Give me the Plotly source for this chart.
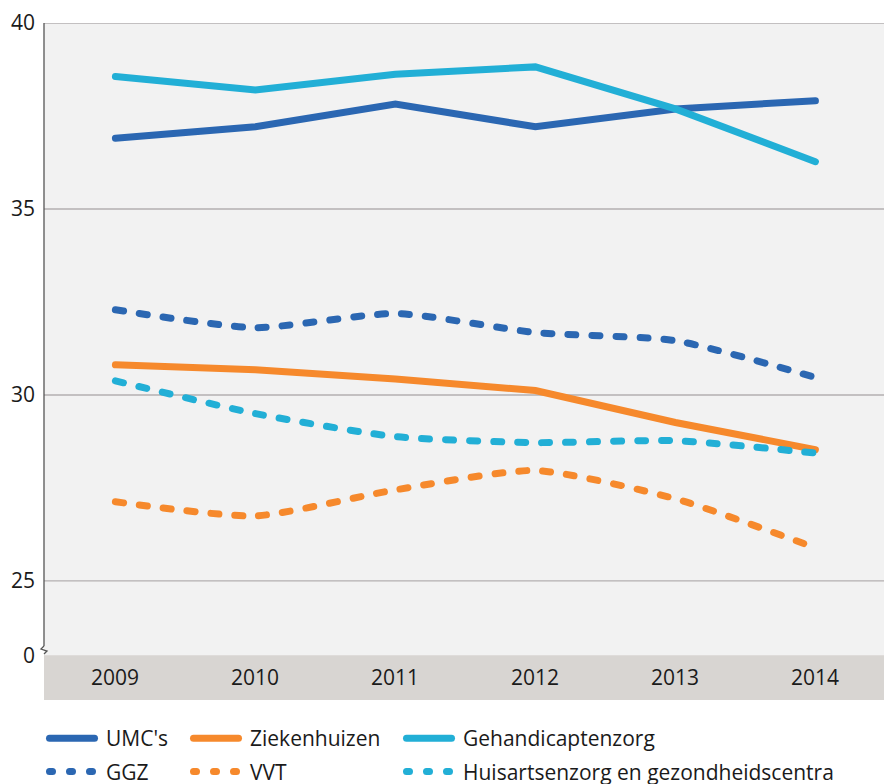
import plotly.graph_objects as go

years = ["2009", "2010", "2011", "2012", "2013", "2014"]
umc = [36.90, 37.21, 37.82, 37.21, 37.69, 37.91]
ziekenhuizen = [30.81, 30.68, 30.43, 30.12, 29.26, 28.53]
gehandicapt = [38.56, 38.20, 38.62, 38.82, 37.69, 36.27]
ggz = [32.29, 31.81, 32.19, 31.68, 31.46, 30.47]
vvt = [27.13, 26.75, 27.45, 27.97, 27.21, 25.89]
huisarts = [30.38, 29.50, 28.88, 28.72, 28.77, 28.44]

ytick_vals = [23, 25, 30, 35, 40]
ytick_text = ["0", "25", "30", "35", "40"]
grid_vals = [25, 30, 35, 40]

BLUE = "#2b67b2"
ORANGE = "#f6892c"
CYAN = "#22afd6"
FONT = "Open Sans"
TXT = "#1a1a1a"
DOT = "8px,16px"

series = [
    ("UMC's", umc, BLUE, "solid", "linear", "legend"),
    ("GGZ", ggz, BLUE, DOT, "spline", "legend"),
    ("Ziekenhuizen", ziekenhuizen, ORANGE, "solid", "linear", "legend2"),
    ("VVT", vvt, ORANGE, DOT, "spline", "legend2"),
    ("Gehandicaptenzorg", gehandicapt, CYAN, "solid", "linear", "legend3"),
    ("Huisartsenzorg en gezondheidscentra", huisarts, CYAN, DOT, "spline", "legend3"),
]

fig = go.Figure()
for name, vals, col, dash, shape, lg in series:
    fig.add_trace(go.Scatter(
        x=years, y=vals, name=name, mode="lines",
        line=dict(color=col, width=7, dash=dash, shape=shape, smoothing=0.6),
        legend=lg, legendgroup=name,
    ))

y_bottom = 21.8
shapes = [
    dict(type="rect", xref="paper", yref="y", x0=0, x1=1, y0=y_bottom, y1=23,
         fillcolor="#d8d5d2", line=dict(width=0), layer="below"),
]
for g in grid_vals:
    shapes.append(dict(type="line", xref="paper", yref="y", x0=0, x1=1, y0=g, y1=g,
                       line=dict(color="#b3afb0", width=1.3), layer="below"))
shapes.append(dict(type="line", xref="paper", yref="y", x0=0, x1=0, y0=23.25, y1=40,
                   line=dict(color="#555555", width=1.3), layer="above"))
shapes.append(dict(type="path", xref="paper", yref="y", xsizemode="pixel", ysizemode="pixel",
                   xanchor=0, yanchor=23.25,
                   path="M0,0 L-3,-3 L3,-5 L0,-8",
                   line=dict(color="#555555", width=1.3), layer="above"))

annotations = [
    dict(x=i, y=22.41, xref="x", yref="y", text=yr, showarrow=False,
         font=dict(family=FONT, size=21, color=TXT))
    for i, yr in enumerate(years)
]

leg_common = dict(orientation="v", xref="container", yref="container",
                  yanchor="top", xanchor="left", bgcolor="rgba(0,0,0,0)",
                  font=dict(family=FONT, size=21, color=TXT),
                  itemwidth=52, tracegroupgap=3)

leg_top = 1 - 718 / 784

fig.update_layout(
    width=884, height=784,
    margin=dict(l=44, r=0, t=23, b=84, autoexpand=False),
    paper_bgcolor="white",
    plot_bgcolor="#f2f2f2",
    font=dict(family=FONT, size=21, color=TXT),
    xaxis=dict(type="category", range=[-0.51, 5.49], showgrid=False, showticklabels=False,
               zeroline=False, showline=False, ticks=""),
    yaxis=dict(range=[y_bottom, 40], tickvals=ytick_vals, ticktext=ytick_text,
               showgrid=False, zeroline=False, showline=False, ticks="",
               ticklabelstandoff=8, tickfont=dict(family=FONT, size=21, color=TXT)),
    shapes=shapes,
    annotations=annotations,
    legend=dict(x=44 / 884, y=leg_top, **leg_common),
    legend2=dict(x=188 / 884, y=leg_top, **leg_common),
    legend3=dict(x=401 / 884, y=leg_top, **leg_common),
)

post = """
document.body.style.margin = '0';
document.querySelectorAll('.scatterlayer path.js-line').forEach(function(p){
  p.style.strokeLinecap = 'round';
});
document.querySelectorAll('.legendlines path').forEach(function(p){
  p.style.strokeLinecap = 'round';
  p.style.strokeWidth = '7px';
  var bb = p.getBBox();
  var x0 = bb.x + 0.5;
  p.setAttribute('d', 'M' + x0 + ',0h45');
  var da = p.style.strokeDasharray;
  if (da && da !== 'none' && da !== '') {
    p.style.strokeDasharray = '3px,17px';
  }
});
"""

fig.write_html("out.html", post_script=post, config={"displayModeBar": False})
